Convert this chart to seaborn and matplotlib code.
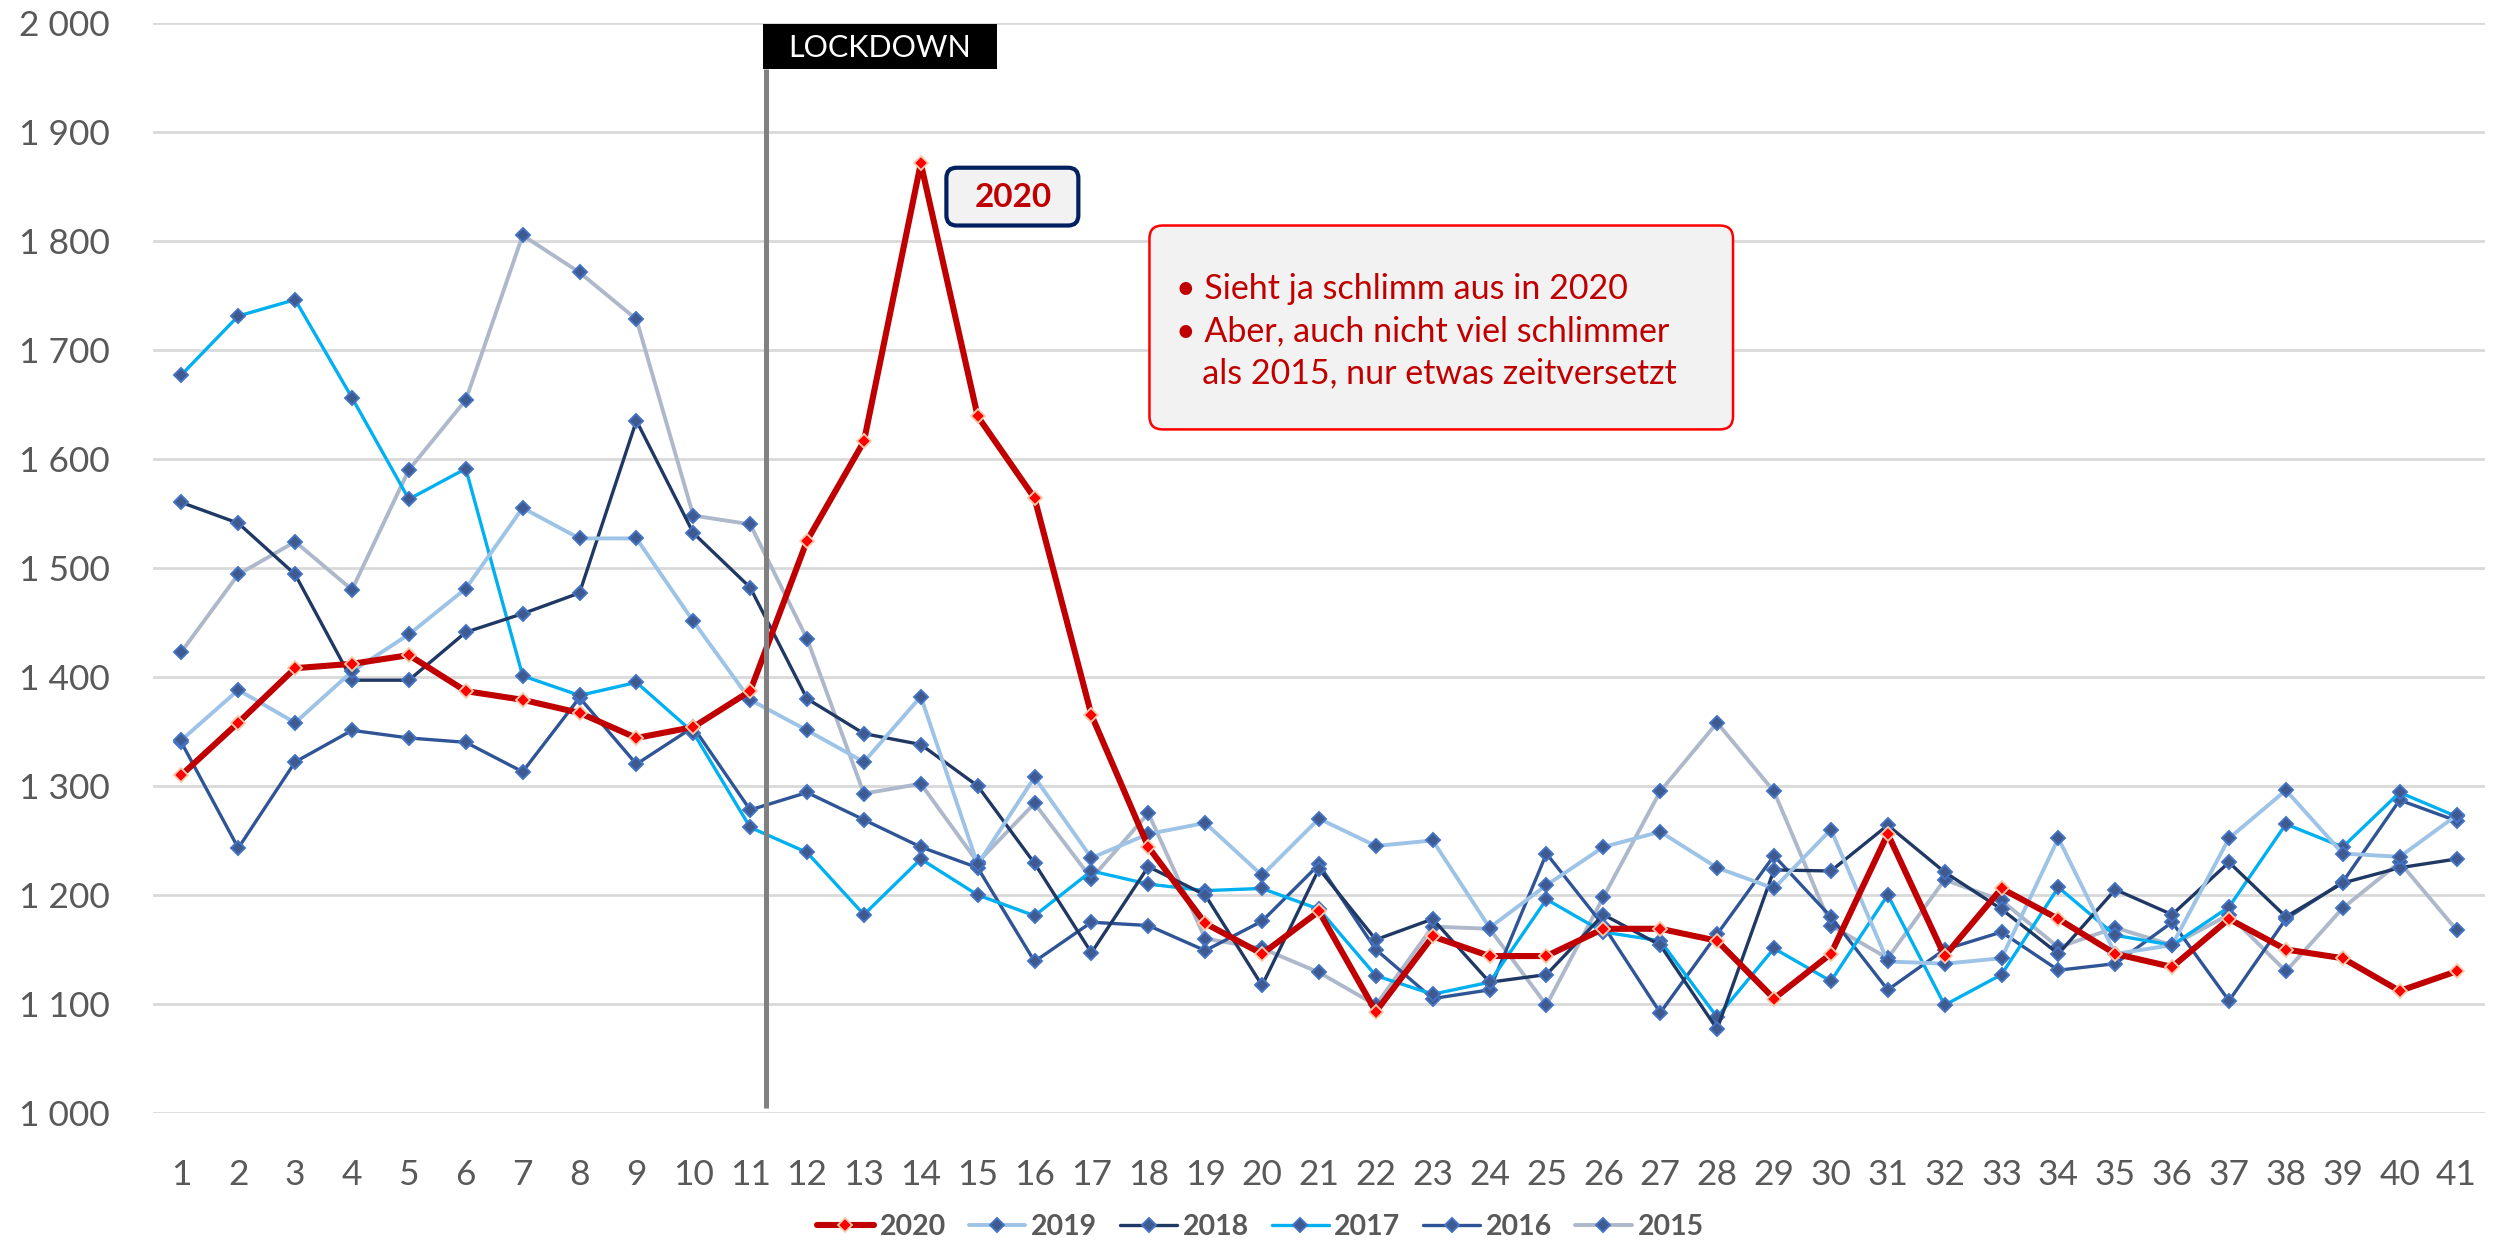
import pandas as pd
import seaborn as sns
import matplotlib.pyplot as plt
from matplotlib.patches import FancyBboxPatch, Rectangle
from matplotlib.ticker import FuncFormatter

weeks = list(range(1, 42))
years = ["2020", "2019", "2018", "2017", "2016", "2015"]

y2020 = [1310, 1358, 1408, 1412, 1420, 1387, 1379, 1367, 1344, 1354, 1387, 1525, 1616, 1871,
         1639, 1564, 1365, 1244, 1174, 1146, 1185, 1093, 1162, 1144, 1144, 1169, 1169, 1158,
         1105, 1146, 1256, 1144, 1206, 1178, 1146, 1134, 1178, 1150, 1142, 1112, 1130]
y2019 = [1342, 1388, 1358, 1405, 1439, 1481, 1555, 1527, 1527, 1451, 1379, 1351, 1322, 1382,
         1228, 1308, 1234, 1256, 1266, 1218, 1270, 1245, 1250, 1170, 1209, 1244, 1258, 1225,
         1206, 1260, 1139, 1137, 1142, 1252, 1146, 1154, 1252, 1296, 1238, 1235, 1273]
y2018 = [1560, 1541, 1494, 1397, 1397, 1441, 1458, 1477, 1635, 1532, 1482, 1380, 1348, 1338,
         1300, 1229, 1147, 1226, 1200, 1117, 1224, 1159, 1178, 1120, 1127, 1182, 1154, 1077,
         1223, 1222, 1264, 1221, 1187, 1146, 1205, 1182, 1230, 1180, 1211, 1225, 1233]
y2017 = [1677, 1731, 1746, 1656, 1563, 1591, 1401, 1383, 1395, 1349, 1262, 1239, 1182, 1233,
         1200, 1181, 1222, 1210, 1204, 1206, 1187, 1126, 1109, 1120, 1196, 1166, 1158, 1088,
         1151, 1121, 1200, 1099, 1127, 1207, 1163, 1154, 1189, 1265, 1244, 1294, 1272]
y2016 = [1340, 1243, 1322, 1351, 1344, 1340, 1313, 1381, 1320, 1354, 1278, 1294, 1269, 1244,
         1225, 1139, 1175, 1172, 1149, 1176, 1228, 1150, 1105, 1113, 1238, 1172, 1092, 1164,
         1236, 1180, 1113, 1150, 1166, 1131, 1137, 1175, 1103, 1178, 1212, 1287, 1268]
y2015 = [1423, 1494, 1524, 1480, 1590, 1654, 1805, 1771, 1728, 1548, 1540, 1435, 1293, 1302,
         1230, 1284, 1215, 1275, 1160, 1151, 1129, 1099, 1171, 1169, 1099, 1198, 1295, 1358,
         1295, 1172, 1142, 1214, 1195, 1152, 1170, 1154, 1182, 1130, 1188, 1230, 1168]

series = {"2020": y2020, "2019": y2019, "2018": y2018,
          "2017": y2017, "2016": y2016, "2015": y2015}
colors = {"2020": "#c00000", "2019": "#9dc3e6", "2018": "#203864",
          "2017": "#00b0f0", "2016": "#2f5597", "2015": "#adb9ca"}
widths = {"2020": 4.4, "2019": 2.8, "2018": 2.4, "2017": 2.4, "2016": 2.4, "2015": 2.8}

sns.set_theme(style="white")
plt.rcParams["font.family"] = ["Lato", "DejaVu Sans"]

fig = plt.figure(figsize=(25.03, 12.41), dpi=100)
ax = fig.add_axes([0.0611, 0.1031, 0.9317, 0.8786])

# alte Jahre zuerst, 2020 oben drauf
for i, yr in enumerate(reversed(years)):
    df = pd.DataFrame({"Woche": weeks, "Wert": series[yr]})
    if yr == "2020":
        sns.lineplot(data=df, x="Woche", y="Wert", ax=ax, color=colors[yr], lw=widths[yr],
                     marker="D", markersize=7, markerfacecolor="#ff0000",
                     markeredgecolor="#f8cbad", markeredgewidth=1.3, label=yr, zorder=10)
    else:
        sns.lineplot(data=df, x="Woche", y="Wert", ax=ax, color=colors[yr], lw=widths[yr],
                     marker="D", markersize=7.5, markerfacecolor="#3e5a8e",
                     markeredgecolor="#4472c4", markeredgewidth=1.4, label=yr, zorder=3 + i)

ax.set_xlim(0.5, 41.5)
ax.set_ylim(1000, 2000)
ax.set_xticks(weeks)
ax.set_yticks(range(1000, 2001, 100))
ax.yaxis.set_major_formatter(FuncFormatter(lambda v, p: f"{int(v):,}".replace(",", " ")))
ax.tick_params(axis="both", length=0, labelsize=25.5, labelcolor="#595959")
ax.tick_params(axis="x", pad=33)
ax.tick_params(axis="y", pad=31)
ax.set_xlabel("")
ax.set_ylabel("")
ax.grid(axis="y", color="#d9d9d9", lw=2)
ax.set_axisbelow(True)
for s in ax.spines.values():
    s.set_visible(False)

# Lockdown-Markierung
ax.plot([11.27, 11.27], [1005, 1958], color="#808080", lw=3.6, zorder=20,
        solid_capstyle="butt")
ax.add_patch(Rectangle((11.22, 1957.5), 4.12, 41.5, facecolor="black", edgecolor="none",
                       zorder=21, clip_on=False))
ax.text(13.28, 1977, "LOCKDOWN", color="white", fontsize=22, ha="center", va="center",
        zorder=22)

# 2020-Label
ax.add_patch(FancyBboxPatch((14.45, 1814), 2.32, 53, boxstyle="round,pad=0,rounding_size=0.18",
                            facecolor="#f2f2f2", edgecolor="#002060", lw=3, zorder=21,
                            mutation_aspect=52))
ax.text(15.62, 1840, "2020", color="#c00000", fontsize=24, fontweight="bold",
        ha="center", va="center", zorder=22)

# Kommentar
ax.add_patch(FancyBboxPatch((18.02, 1627), 10.26, 187, boxstyle="round,pad=0,rounding_size=0.23",
                            facecolor="#f2f2f2", edgecolor="#ff0000", lw=1.8, zorder=21,
                            mutation_aspect=52))
txt = ("\u2022 Sieht ja schlimm aus in 2020\n"
       "\u2022 Aber, auch nicht viel schlimmer\n"
       "   als 2015, nur etwas zeitversetzt")
ax.text(18.48, 1717, txt, color="#c00000", fontsize=24.5, ha="left", va="center",
        linespacing=1.38, zorder=22)

handles, labels = ax.get_legend_handles_labels()
order = [labels.index(y) for y in years]
leg = ax.legend([handles[k] for k in order], years, loc="center",
                bbox_to_anchor=(0.5035, 0.0113), bbox_transform=fig.transFigure,
                ncol=6, frameon=False, handlelength=2.0, handletextpad=0.2,
                columnspacing=0.8, prop={"size": 20.5, "weight": "bold"})
for t in leg.get_texts():
    t.set_color("#595959")

fig.savefig("out.png", dpi=100)
